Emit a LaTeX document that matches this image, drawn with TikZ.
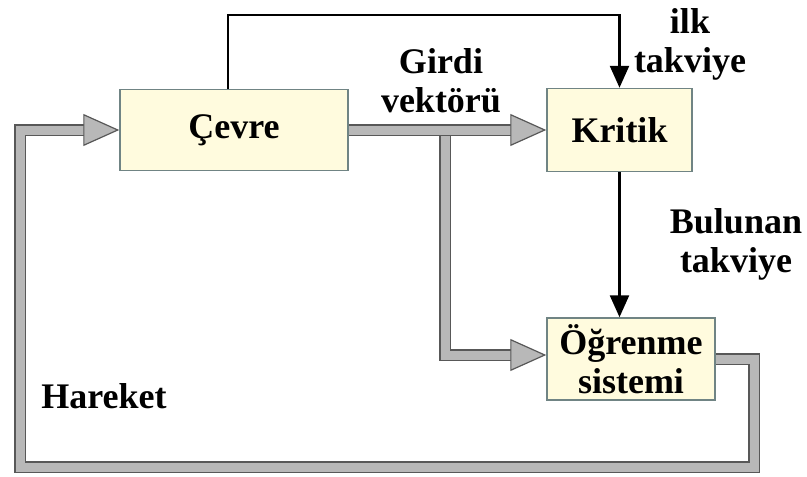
\documentclass[tikz,border=0pt]{standalone}
\usepackage{fontspec}
\setmainfont{Liberation Serif}
\usetikzlibrary{arrows.meta}
\definecolor{boxfill}{RGB}{255,251,222}
\definecolor{boxedge}{RGB}{112,132,132}
\definecolor{arrowgray}{RGB}{184,184,184}
\definecolor{arrowedge}{RGB}{88,88,88}

\begin{document}
\begin{tikzpicture}[x=1pt,y=-1pt,
  font=\fontsize{36}{39}\selectfont\bfseries,
  block/.style={draw=boxedge,fill=boxfill,line width=1.5pt,align=center,inner sep=0pt},
  textnote/.style={align=center,inner sep=0pt},
  fatarrow/.style={draw=arrowedge,line width=1.2pt,double=arrowgray,double distance=9pt,line join=miter,
    -{Triangle[length=36pt,width=32pt,fill=arrowgray,line width=1.2pt]}},
  thinarrow/.style={line width=2.5pt,-{Triangle[length=22pt,width=19pt]}}]
\useasboundingbox (0,0) rectangle (807,477);

\node[block,minimum width=228pt,minimum height=81pt] (cevre) at (234,130) {Çevre};
\node[block,minimum width=145pt,minimum height=83pt] (kritik) at (619.5,130) {Kritik};
\node[block,minimum width=168pt,minimum height=82pt] (ogrenme) at (631,359) {Öğrenme\\sistemi};

\node[textnote] (girdi) at (441,81) {Girdi\\vektörü};
\node[textnote] (ilk) at (690,44) {ilk\\takviye};
\node[textnote] (bulunan) at (736,244) {Bulunan\\takviye};
\node[textnote] (hareket) at (104,396) {Hareket};

% gray arrows
\coordinate (split) at (445,130);
\coordinate (rturn) at (754,467);
\coordinate (lturn) at (20,467);
\draw[fatarrow] (split) |- ([yshift=4pt]ogrenme.west);
\draw[fatarrow] (cevre.east) -- (kritik.west);
\draw[fatarrow] (ogrenme.east) -| (rturn) -- (lturn) |- (cevre.west);

% black arrows
\coordinate (topturn) at (228,15);
\draw[thinarrow] (cevre.north -| topturn) -- (topturn) -| (kritik.north);
\draw[thinarrow] (kritik.south) -- (kritik.south |- ogrenme.north);
\end{tikzpicture}
\end{document}
